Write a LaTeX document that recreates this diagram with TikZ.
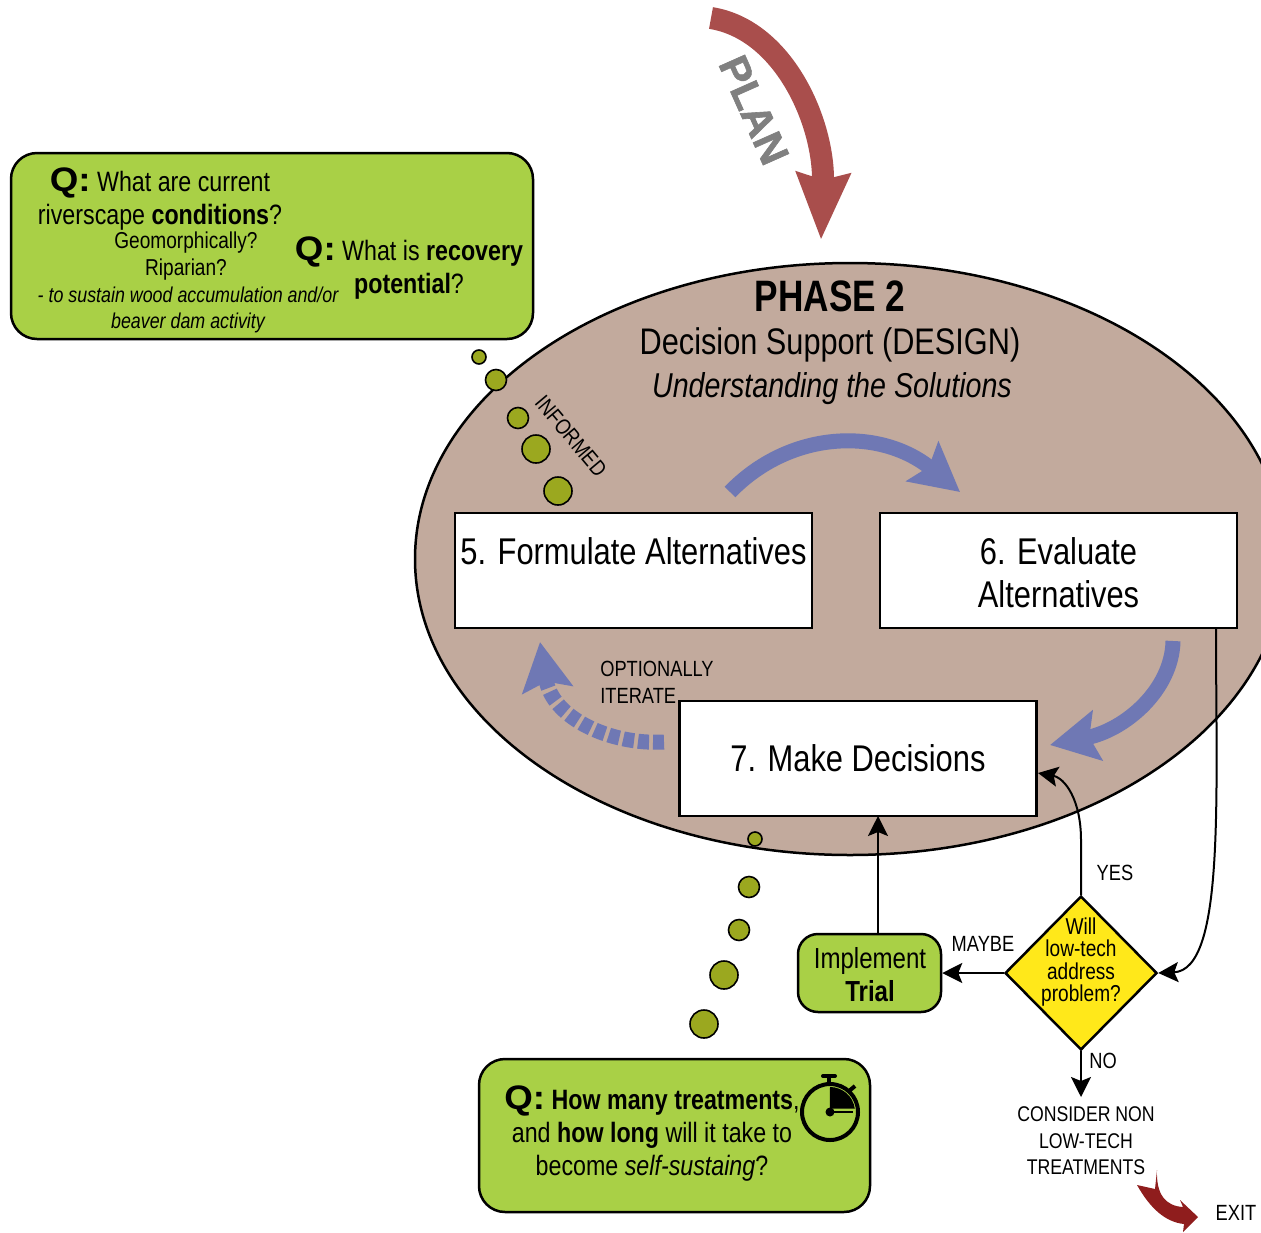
\documentclass[tikz,border=0pt]{standalone}
\usepackage{fontspec}
\setmainfont[FakeStretch=0.83]{Liberation Sans}
\usetikzlibrary{arrows.meta,shapes.geometric}
\definecolor{oval}{HTML}{C2AA9D}
\definecolor{leaf}{HTML}{A9D046}
\definecolor{olive}{HTML}{9BA81F}
\definecolor{flow}{HTML}{6F78B4}
\definecolor{brick}{HTML}{A94E4C}
\definecolor{deepred}{HTML}{8F1D1D}
\definecolor{sun}{HTML}{FFE81A}
\newcommand{\Qq}{{\fontsize{34}{34}\selectfont\bfseries\addfontfeature{FakeStretch=1.08} Q:}}
\newcommand{\lowstrut}{\rule{0pt}{31pt}}
\tikzset{
  stepbox/.style={draw=black,line width=2.5pt,fill=white,minimum width=357pt,minimum height=115pt,inner sep=0pt,align=center,font=\fontsize{37.2}{43.5}\selectfont},
  callout/.style={draw=black,line width=2.5pt,fill=leaf,rounded corners=26pt,inner sep=0pt},
  bubble/.style={draw=black,line width=1.6pt,fill=olive,circle,inner sep=0pt},
  txt/.style 2 args={inner sep=0pt,align=center,font=\fontsize{#1}{#2}\selectfont},
  lbl/.style={inner sep=0pt,align=center,font=\fontsize{22}{26.5}\selectfont},
  wire/.style={draw=black,line width=2pt,-{Stealth[length=20pt,width=20pt,inset=4pt]}},
  swoop/.style={draw=flow,line width=15pt,-{Stealth[length=48pt,width=50pt,inset=8pt]}}
}
\begin{document}
\begin{tikzpicture}[x=1pt,y=-1pt]
\useasboundingbox (0,0) rectangle (1261,1232);
\node[ellipse,draw=black,line width=2.5pt,fill=oval,minimum width=870pt,minimum height=592pt,inner sep=0pt] (phase) at (850,559) {};
\coordinate (plan a) at (711,18);
\coordinate (plan b) at (821,240);
\draw[draw=brick,line width=22pt,-{Stealth[length=66pt,width=52pt,inset=6pt]}] (plan a) .. controls (785,30) and (825,125) .. (plan b);
\node[rotate=-66,text=black!50,inner sep=0pt,font=\fontsize{41}{41}\selectfont\bfseries\addfontfeature{FakeStretch=1.02,FakeBold=1.5}] (plan) at (754,110) {PLAN};
\node[txt={44}{50},font=\fontsize{44}{50}\selectfont\bfseries\addfontfeature{FakeStretch=0.8}] (title) at (830,296) {PHASE 2};
\node[txt={37}{44}] (sub) at (830,345) {Decision Support (DESIGN)};
\node[txt={34.5}{40},font=\fontsize{34.5}{40}\selectfont\itshape] (sub2) at (832,389) {Understanding the Solutions};
\node[stepbox] (form) at (633.5,570.5) {\lowstrut 5. Formulate Alternatives\\~};
\node[stepbox] (eval) at (1058.5,570.5) {\lowstrut 6. Evaluate\\Alternatives};
\node[stepbox] (decide) at (858,758.5) {7. Make Decisions};
\coordinate (a1) at (730,492);
\coordinate (a2) at (960,492);
\coordinate (b1) at (1173,641);
\coordinate (b2) at (1050,745);
\coordinate (c1) at (664,742);
\coordinate (c2) at (540,642);
\draw[swoop] (a1) .. controls (790,430) and (880,427) .. (a2);
\draw[swoop] (b1) .. controls (1172,690) and (1125,730) .. (b2);
\draw[swoop,dash pattern=on 11pt off 4pt] (c1) .. controls (610,745) and (552,718) .. (c2);
\node[lbl,align=left] (iter) at (657,682.5) {OPTIONALLY\\ITERATE};
\node[lbl,rotate=-50] (informed) at (571,436) {INFORMED};
\node[callout,minimum width=522pt,minimum height=186pt] (cur) at (272,246) {};
\node[txt={28}{33}] (q1) at (160,199) {\Qq{} What are current\\riverscape \textbf{conditions}?};
\node[txt={23}{26.5}] (q1b) at (186,256) {Geomorphically?\\Riparian?};
\node[txt={21.5}{26.5},font=\fontsize{21.5}{26.5}\selectfont\itshape] (q1c) at (188,310) {- to sustain wood accumulation and/or\\beaver dam activity};
\node[txt={28}{33}] (q2) at (409,268) {\Qq{} What is \textbf{recovery}\\\textbf{potential}?};
\foreach \nm/\px/\py/\dd in {i1/479/357/14,i2/496/380/21,i3/518/418/21,i4/536/449/28,i5/558/491/28,j1/755/839/14,j2/749/887/21,j3/739/930/21,j4/724/975/28,j5/704/1024/28}
  \node[bubble,minimum size=\dd pt] (\nm) at (\px,\py) {};
\node[callout,minimum width=391pt,minimum height=153pt] (treat) at (674.5,1135.5) {};
\node[txt={28}{33}] (q3) at (652,1134) {\Qq{} \textbf{How many treatments},\\and \textbf{how long} will it take to\\become \textit{self-sustaing}?};
\node[circle,draw=black,line width=4pt,minimum size=56pt,inner sep=0pt] (watch) at (830,1112) {};
\fill[black] (watch.center) ++(0,-25) arc (-90:-8:25) -- ++(-25,0) -- cycle;
\fill[black] (watch.center) circle (4.5pt);
\draw[line width=2pt] (watch.center) -- +(23,0);
\draw[line width=4pt] (829,1084) -- (829,1078);
\draw[line width=4pt,line cap=round] (823,1076) -- (835,1076);
\draw[line width=4pt] (849,1091) -- (855,1086);
\node[callout,rounded corners=20pt,minimum width=143pt,minimum height=78pt] (trial) at (869.5,973) {};
\node[txt={29}{33}] (trialtxt) at (870,975) {Implement\\\textbf{Trial}};
\node[diamond,draw=black,line width=2.5pt,fill=sun,minimum width=152pt,minimum height=154pt,inner sep=0pt] (will) at (1081,973) {};
\node[txt={23}{22.3}] (willtxt) at (1081,962) {Will\\low-tech\\address\\problem?};
\node[lbl] (yes) at (1115,873) {YES};
\node[lbl] (maybe) at (983,944) {MAYBE};
\node[lbl] (no) at (1103,1061) {NO};
\node[lbl,font=\fontsize{21.3}{26.5}\selectfont] (other) at (1086,1141) {CONSIDER NON\\LOW-TECH\\TREATMENTS};
\node[lbl] (exit) at (1236,1213) {EXIT};
\coordinate (e1) at (1216,628);
\draw[wire] (e1) .. controls (1216,800) and (1225,970) .. (will.east);
\coordinate (d1) at (1038,773);
\draw[wire] (will.north) -- (1081,840) .. controls (1081,800) and (1065,778) .. (d1);
\draw[wire] (will.west) -- (trial.east);
\coordinate (t1) at (878,934);
\coordinate (t2) at (878,816);
\draw[wire] (t1) -- (t2);
\coordinate (n1) at (1081,1097);
\draw[wire] (will.south) -- (n1);
\fill[deepred] (1157,1170) .. controls (1156,1195) and (1166,1206) .. (1183,1207) -- (1180,1200) -- (1198,1217) -- (1183,1232) -- (1184,1224)
  .. controls (1165,1222) and (1150,1208) .. (1137,1185) -- (1155,1189) -- cycle;
\end{tikzpicture}
\end{document}
